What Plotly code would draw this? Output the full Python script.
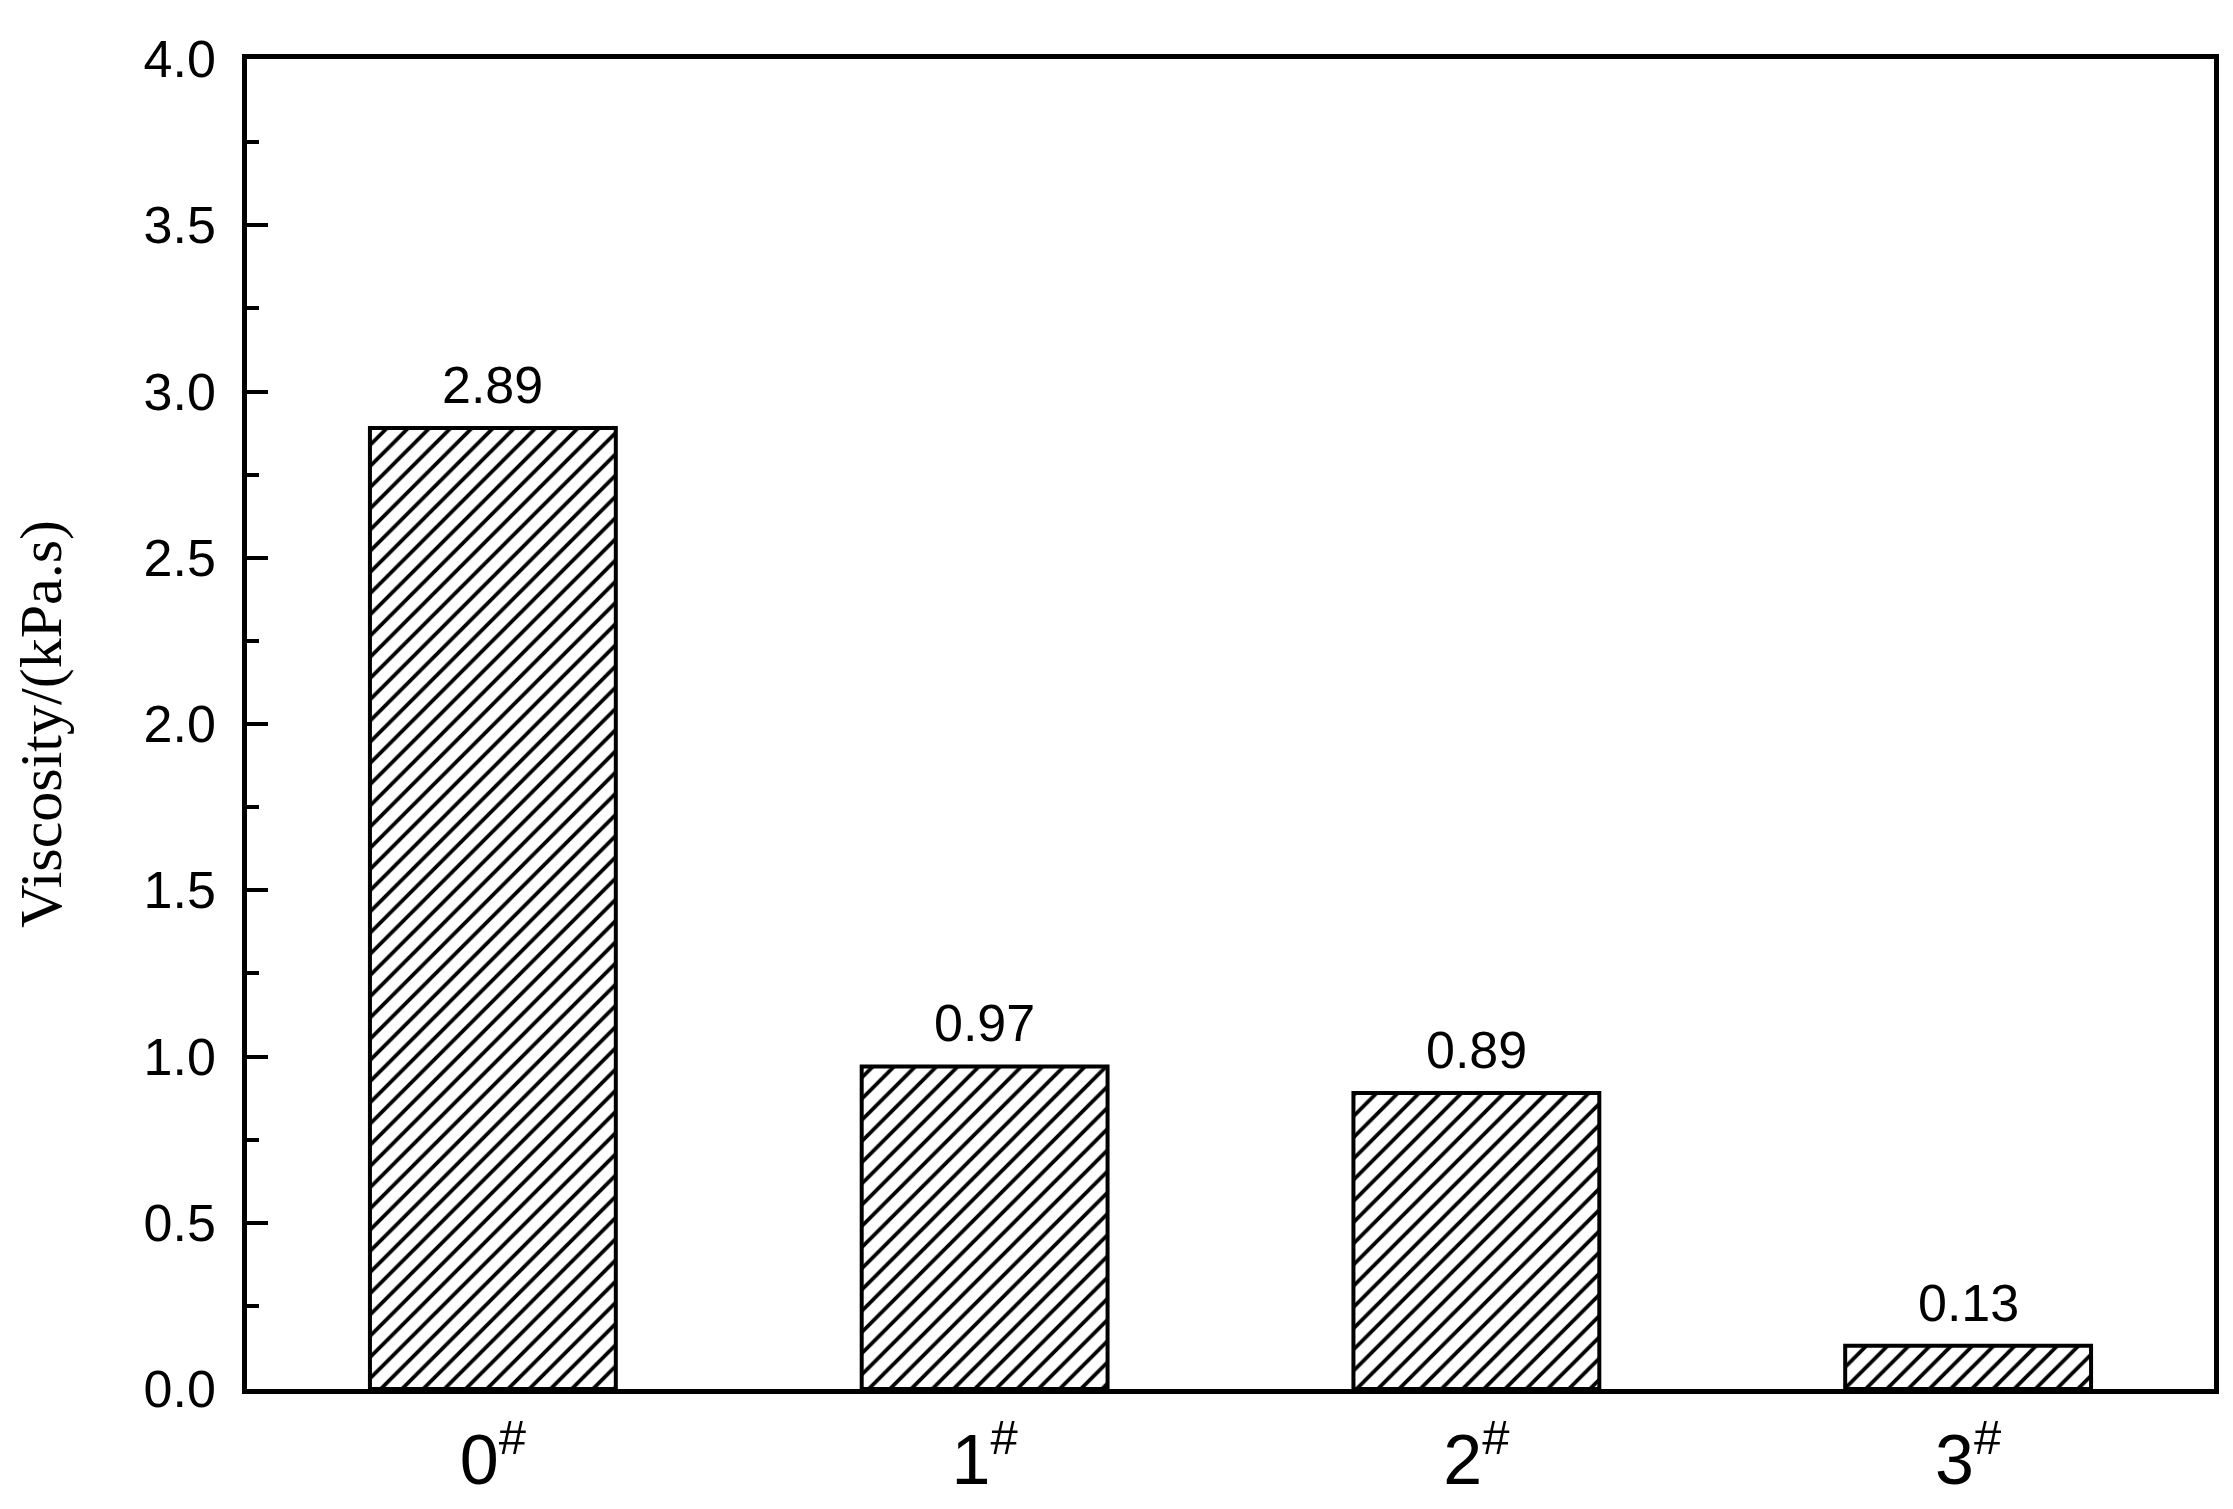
import plotly.graph_objects as go

# chart data
samples = ["0", "1", "2", "3"]
viscosity = [2.89, 0.97, 0.89, 0.13]
value_labels = ["2.89", "0.97", "0.89", "0.13"]
y_ticks = [0.0, 0.5, 1.0, 1.5, 2.0, 2.5, 3.0, 3.5, 4.0]

SANS = "Liberation Sans, Arial"
SERIF = "Liberation Serif, Times New Roman, serif"

# sample names with a raised "#" mark
categories = [f"{s}<sup>#</sup>" for s in samples]

fig = go.Figure(
    go.Bar(
        x=categories,
        y=viscosity,
        width=0.5,
        marker=dict(
            color="white",
            line=dict(color="black", width=4),
            pattern=dict(
                shape="/",
                fillmode="replace",
                fgcolor="black",
                fgopacity=1,
                bgcolor="white",
                size=15,
                solidity=0.25,
            ),
        ),
        showlegend=False,
    )
)

# value labels above each bar
for cat, val, lab in zip(categories, viscosity, value_labels):
    fig.add_annotation(
        x=cat,
        y=val,
        text=lab,
        showarrow=False,
        yanchor="bottom",
        yshift=12,
        font=dict(family=SANS, size=52, color="black"),
    )

fig.update_xaxes(
    range=[-0.5, 3.5],
    showline=True,
    linecolor="black",
    linewidth=4.5,
    mirror=True,
    ticks="",
    showgrid=False,
    tickfont=dict(family=SANS, size=70, color="black"),
    ticklabelstandoff=6,
)

fig.update_yaxes(
    range=[0, 4.0],
    tickvals=y_ticks,
    ticktext=[f"{v:.1f}" for v in y_ticks],
    showline=True,
    linecolor="black",
    linewidth=4.5,
    mirror=True,
    ticks="inside",
    ticklen=21,
    tickwidth=4,
    tickcolor="black",
    minor=dict(ticks="inside", ticklen=12, tickwidth=4, tickcolor="black", dtick=0.25),
    showgrid=False,
    zeroline=False,
    tickfont=dict(family=SANS, size=52, color="black"),
    ticklabelstandoff=16,
    title=dict(text="Viscosity/(kPa.s)", font=dict(family=SERIF, size=60, color="black"), standoff=68),
)

fig.update_layout(
    width=2233,
    height=1509,
    autosize=False,
    plot_bgcolor="white",
    paper_bgcolor="white",
    margin=dict(l=239, r=27, t=51, b=128, pad=0),
    bargap=0.5,
)

fig.write_html("out.html", config={"displayModeBar": False})
